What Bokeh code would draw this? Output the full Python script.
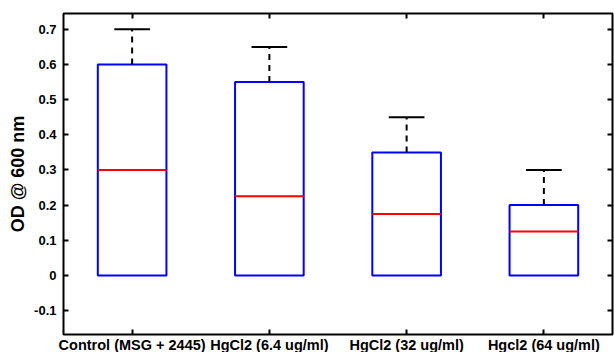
from bokeh.plotting import figure
from bokeh.models import Range1d, LinearAxis, FixedTicker
from bokeh.embed import file_html
from bokeh.resources import INLINE

categories = ["Control (MSG + 2445)", "HgCl2 (6.4 ug/ml)", "HgCl2 (32 ug/ml)", "Hgcl2 (64 ug/ml)"]
positions = [1, 2, 3, 4]
q1 = [0.0, 0.0, 0.0, 0.0]
q3 = [0.6, 0.55, 0.35, 0.2]
median = [0.3, 0.225, 0.175, 0.125]
upper = [0.7, 0.65, 0.45, 0.3]
yticks = [-0.1, 0, 0.1, 0.2, 0.3, 0.4, 0.5, 0.6, 0.7]

box_hw = 0.25
cap_hw = 0.13

p = figure(output_backend="svg", toolbar_location=None,
           frame_width=549, frame_height=321,
           min_border_left=71, min_border_right=2, min_border_top=21, min_border_bottom=18,
           x_range=Range1d(0.5, 4.5), y_range=Range1d(-0.168, 0.745),
           margin=(-8, 0, 0, -8))
p.grid.visible = False
p.outline_line_color = "black"
p.outline_line_width = 2
p.background_fill_color = "white"
p.border_fill_color = "white"

xl = [x - box_hw for x in positions]
xr = [x + box_hw for x in positions]
p.quad(left=xl, right=xr, bottom=q1, top=q3, fill_color=None, line_color="#0000FF", line_width=2)
p.segment(x0=xl, x1=xr, y0=median, y1=median, line_color="#FF0000", line_width=2)
p.segment(x0=positions, x1=positions, y0=q3, y1=upper, line_color="black", line_width=2, line_dash="6 5")
p.segment(x0=[x - cap_hw for x in positions], x1=[x + cap_hw for x in positions],
          y0=upper, y1=upper, line_color="black", line_width=2)

font = "Liberation Sans"
for ax in (p.xaxis[0], p.yaxis[0]):
    ax.major_tick_in = 5
    ax.major_tick_out = 0
    ax.minor_tick_line_color = None
    ax.axis_line_color = None
    ax.major_tick_line_width = 2
    ax.major_label_text_font = font
    ax.major_label_text_font_style = "bold"
    ax.major_label_text_color = "black"

p.xaxis[0].ticker = FixedTicker(ticks=positions)
p.xaxis[0].major_label_overrides = {pos: c for pos, c in zip(positions, categories)}
p.xaxis[0].major_label_standoff = 2
p.xaxis[0].major_label_text_font_size = "14.5px"
p.yaxis[0].ticker = FixedTicker(ticks=yticks)
p.yaxis[0].major_label_overrides = {t: ("0" if t == 0 else f"{t:g}") for t in yticks}
p.yaxis[0].major_label_standoff = 7
p.yaxis[0].major_label_text_font_size = "13px"
p.yaxis[0].axis_label = "OD @ 600 nm"
p.yaxis[0].axis_label_text_font = font
p.yaxis[0].axis_label_text_font_style = "bold"
p.yaxis[0].axis_label_text_font_size = "18px"
p.yaxis[0].axis_label_text_color = "black"
p.yaxis[0].axis_label_standoff = 3

top = LinearAxis(ticker=FixedTicker(ticks=positions),
                 major_label_overrides={pos: "" for pos in positions},
                 major_tick_in=5, major_tick_out=0, minor_tick_line_color=None,
                 axis_line_color=None, major_tick_line_width=2, major_label_standoff=0)
right = LinearAxis(ticker=FixedTicker(ticks=yticks),
                   major_label_overrides={t: "" for t in yticks},
                   major_tick_in=5, major_tick_out=0, minor_tick_line_color=None,
                   axis_line_color=None, major_tick_line_width=2, major_label_standoff=0)
p.add_layout(top, "above")
p.add_layout(right, "right")

open("out.html", "w").write(file_html(p, INLINE))
